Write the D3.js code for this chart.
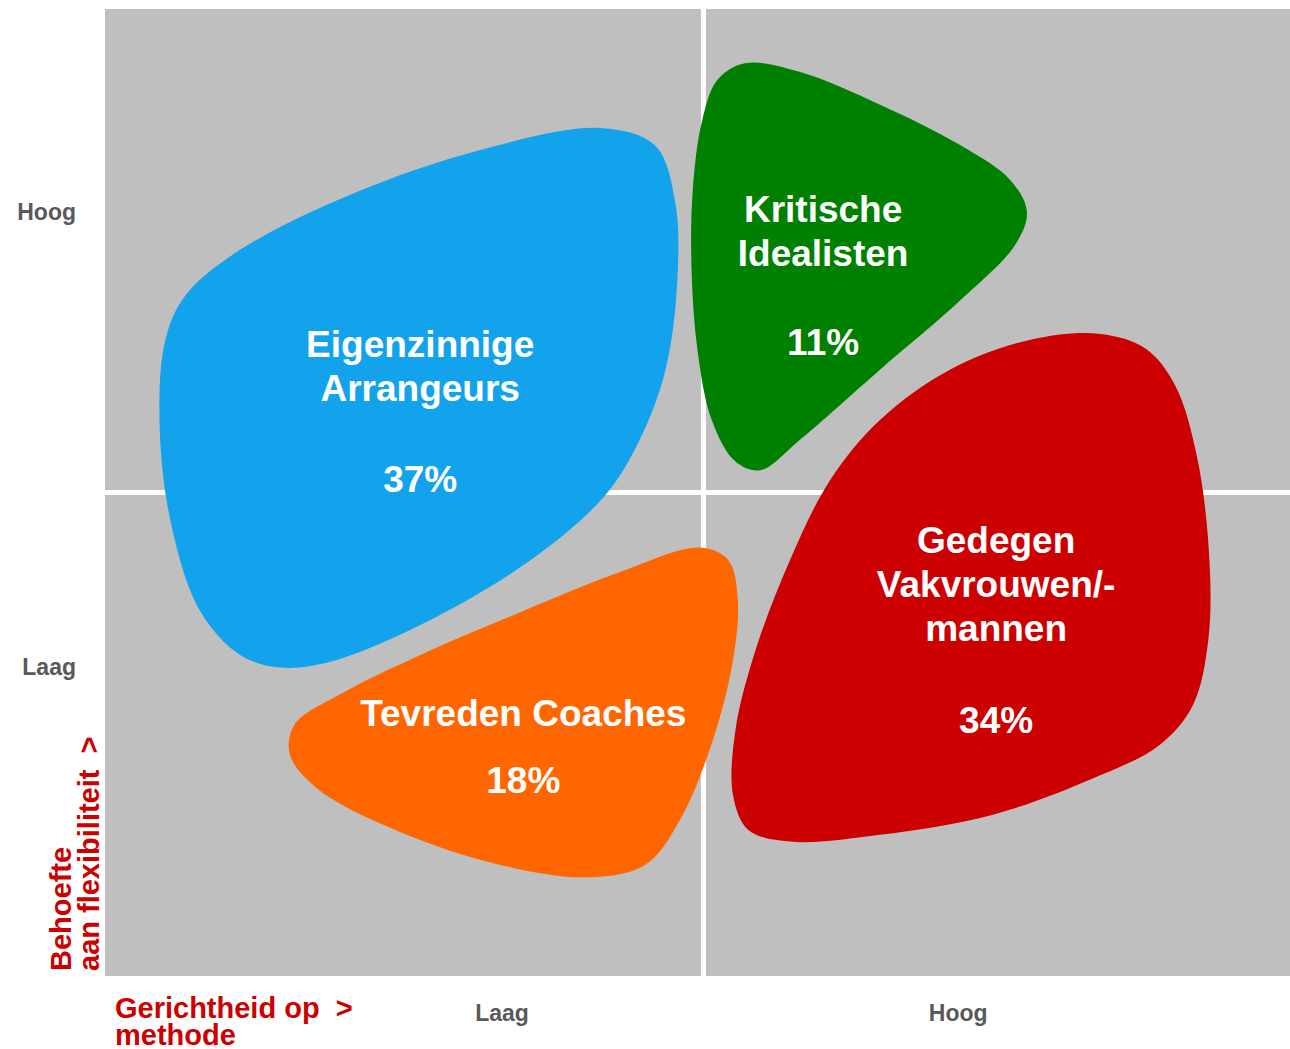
<!DOCTYPE html>
<html>
<head>
<meta charset="utf-8">
<script src="https://cdn.jsdelivr.net/npm/d3@7"></script>
<style>
  body { margin: 0; background: #fff; }
  svg text { font-family: "Liberation Sans", Arial, sans-serif; font-weight: bold; }
</style>
</head>
<body>
<div id="chart"></div>
<script>
// segments (quadrant blobs), outline points in 0-100 units on both axes
var segNames = ['Eigenzinnige Arrangeurs', 'Kritische Idealisten', 'Gedegen Vakvrouwen/-mannen', 'Tevreden Coaches']
var segLines = [['Eigenzinnige', 'Arrangeurs'], ['Kritische', 'Idealisten'], ['Gedegen', 'Vakvrouwen/-', 'mannen'], ['Tevreden Coaches']]
var segShares = [37, 11, 34, 18]
var segColors = ['#12a3ec', '#008000', '#cc0000', '#ff6600']

var blueOutline = [[41.8, 87.7], [46.4, 85.9], [48.1, 80.2], [48.3, 72.0], [47.3, 62.7], [45.1, 55.4], [42.2, 49.7],
  [35.9, 43.0], [26.6, 36.3], [19.0, 32.5], [14.8, 31.9], [11.4, 33.2], [8.0, 37.8], [5.5, 47.2], [4.6, 57.5],
  [5.1, 65.8], [6.8, 70.4], [11.4, 75.1], [20.7, 80.8], [31.6, 85.4]]
var greenOutline = [[54.0, 94.4], [58.6, 93.5], [65.4, 90.1], [72.2, 85.9], [76.4, 82.3], [77.8, 79.0], [76.8, 75.6],
  [72.2, 69.9], [65.4, 62.7], [58.6, 55.4], [55.3, 52.3], [53.2, 53.2], [51.2, 57.5], [50.0, 64.7], [49.5, 73.0],
  [49.6, 81.3], [50.4, 88.5], [51.7, 92.7]]
var redOutline = [[84.0, 66.4], [87.8, 64.9], [90.3, 61.1], [92.2, 53.4], [93.2, 43.0], [93.1, 34.7], [91.8, 28.0],
  [89.0, 23.9], [83.1, 20.3], [74.7, 16.6], [65.4, 14.6], [57.8, 13.9], [54.3, 15.1], [53.0, 18.7], [53.2, 25.4],
  [54.9, 33.7], [57.8, 43.0], [61.2, 51.3], [65.4, 57.5], [71.3, 62.7], [78.1, 65.8]]
var orangeOutline = [[50.2, 44.3], [52.6, 43.0], [53.4, 38.9], [53.0, 32.7], [51.3, 24.4], [48.5, 16.1], [45.6, 11.5],
  [40.9, 10.2], [33.3, 11.5], [24.9, 14.9], [18.1, 19.2], [15.6, 22.9], [16.0, 26.0], [19.8, 29.1], [26.6, 33.2],
  [35.0, 37.6], [43.5, 41.8]]
var segOutlines = [blueOutline, greenOutline, redOutline, orangeOutline]

// where each label block sits: [x, y of first line, y of percentage]
var labelAnchors = [[26.6, 64.0, 50.1], [60.6, 78.0, 64.2], [75.2, 43.7, 25.1], [35.3, 25.9, 18.9]]

var xTickLabels = ['Laag', 'Hoog']
var xTickPos = [33.5, 72]
var yTickLabels = ['Hoog', 'Laag']
var yTickPos = [79, 32]
var xTitle = ['Gerichtheid op  >', 'methode']
var yTitle = ['Behoefte', 'aan flexibiliteit  >']
var xSplit = 50.5
var ySplit = 50

var width = 1290
var height = 1049
var plotL = 105, plotR = 1290, plotT = 9, plotB = 976

var x = d3.scaleLinear().domain([0, 100]).range([plotL, plotR])
var y = d3.scaleLinear().domain([0, 100]).range([plotB, plotT])

var svg = d3.select('#chart').append('svg')
  .attr('width', width)
  .attr('height', height)

svg.append('rect')
  .attr('x', x(0)).attr('y', y(100))
  .attr('width', x(100) - x(0)).attr('height', y(0) - y(100))
  .attr('fill', '#bfbfbf')

// quadrant dividers
svg.append('line')
  .attr('x1', x(xSplit)).attr('x2', x(xSplit))
  .attr('y1', y(100)).attr('y2', y(0))
  .attr('stroke', '#fff').attr('stroke-width', 5)
svg.append('line')
  .attr('x1', x(0)).attr('x2', x(100))
  .attr('y1', y(ySplit)).attr('y2', y(ySplit))
  .attr('stroke', '#fff').attr('stroke-width', 5)

var blob = d3.line()
  .x(function (d) { return x(d[0]) })
  .y(function (d) { return y(d[1]) })
  .curve(d3.curveCatmullRomClosed.alpha(0.5))

svg.selectAll('path.seg')
  .data(segOutlines)
  .enter().append('path')
  .attr('class', 'seg')
  .attr('d', blob)
  .attr('fill', function (d, i) { return segColors[i] })

var lineGap = 44
segNames.forEach(function (name, i) {
  var a = labelAnchors[i]
  var g = svg.append('g').attr('fill', '#fff').attr('text-anchor', 'middle').style('font-size', '37px')
  segLines[i].forEach(function (t, j) {
    g.append('text').attr('x', x(a[0])).attr('y', y(a[1]) + j * lineGap).text(t)
  })
  g.append('text').attr('x', x(a[0])).attr('y', y(a[2])).text(segShares[i] + '%')
})

// tick labels
svg.selectAll('text.xtick')
  .data(xTickLabels)
  .enter().append('text')
  .attr('class', 'xtick')
  .attr('x', function (d, i) { return x(xTickPos[i]) })
  .attr('y', 1021)
  .attr('text-anchor', 'middle')
  .attr('fill', '#595959')
  .style('font-size', '23px')
  .text(function (d) { return d })

svg.selectAll('text.ytick')
  .data(yTickLabels)
  .enter().append('text')
  .attr('class', 'ytick')
  .attr('x', 76)
  .attr('y', function (d, i) { return y(yTickPos[i]) + 8 })
  .attr('text-anchor', 'end')
  .attr('fill', '#595959')
  .style('font-size', '23px')
  .text(function (d) { return d })

// axis titles
svg.selectAll('text.xtitle')
  .data(xTitle)
  .enter().append('text')
  .attr('class', 'xtitle')
  .attr('x', 115)
  .attr('y', function (d, i) { return 1018 + i * 27 })
  .attr('fill', '#cc0000')
  .style('white-space', 'pre')
  .style('font-size', '29px')
  .text(function (d) { return d })

svg.selectAll('text.ytitle')
  .data(yTitle)
  .enter().append('text')
  .attr('class', 'ytitle')
  .attr('transform', function (d, i) { return 'translate(' + (71 + i * 28) + ',971) rotate(-90)' })
  .attr('fill', '#cc0000')
  .style('white-space', 'pre')
  .style('font-size', '29px')
  .text(function (d) { return d })
</script>
</body>
</html>
